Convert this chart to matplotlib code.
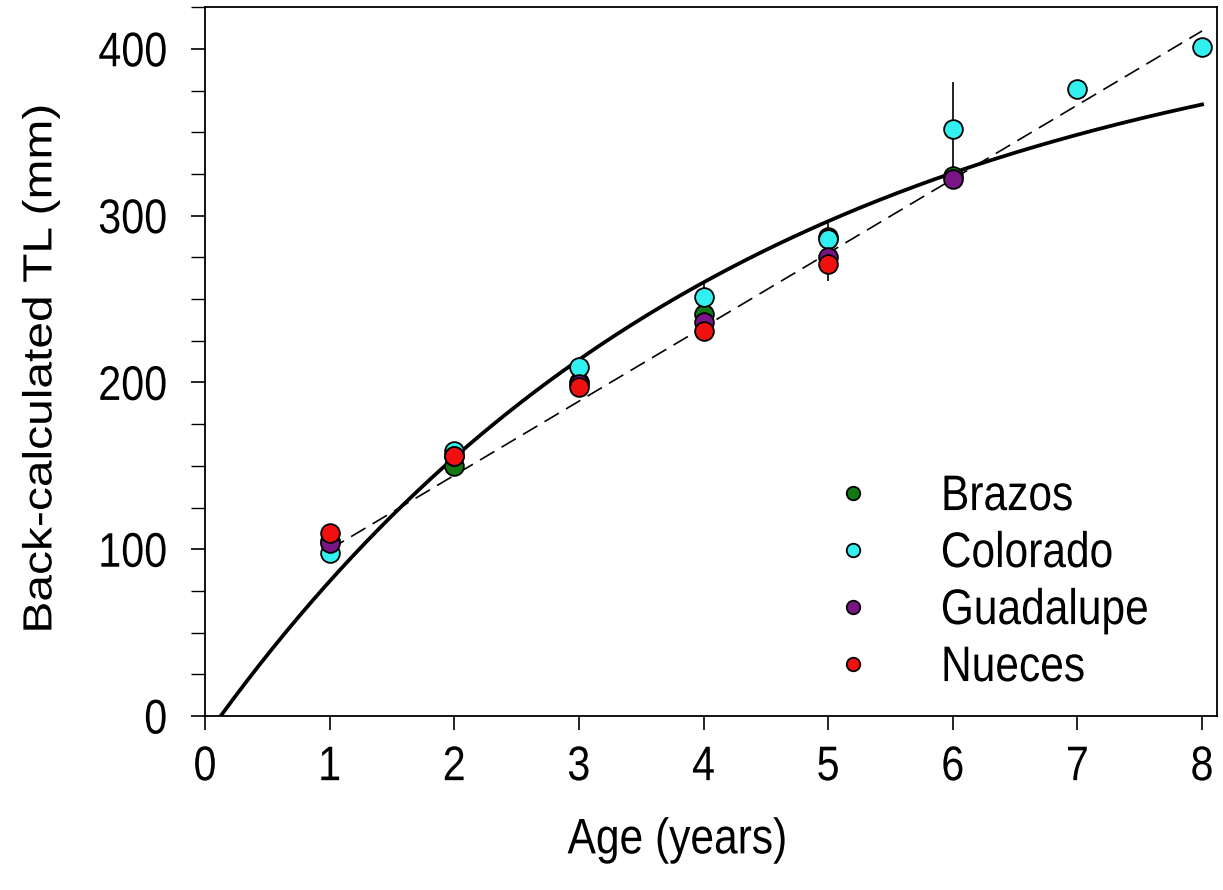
import numpy as np
import matplotlib
matplotlib.use("Agg")
import matplotlib.pyplot as plt
from matplotlib.ticker import MultipleLocator
from matplotlib.patheffects import AbstractPathEffect
from matplotlib.transforms import Affine2D

plt.rcParams['font.family'] = ['Liberation Sans', 'DejaVu Sans']

# ---- data ----
series_names = ["Brazos", "Colorado", "Guadalupe", "Nueces"]
series_colors = ["#137a13", "#33f0f0", "#7a1585", "#f01010"]

brazos_age = [1, 2, 3, 4, 5, 6]
brazos_tl = [105, 150, 200, 241, 287, 324]
brazos_err = [0, 0, 0, 0, 0, 0]

colorado_age = [1, 2, 3, 4, 5, 6, 7, 8]
colorado_tl = [98, 159, 209, 251, 286, 352, 376, 401]
colorado_err = [0, 0, 0, 9, 10, 28, 0, 0]

guadalupe_age = [1, 2, 3, 4, 5, 6]
guadalupe_tl = [104, 156, 199, 236, 275, 322]
guadalupe_err = [0, 0, 0, 0, 0, 0]

nueces_age = [1, 2, 3, 4, 5]
nueces_tl = [110, 156, 197, 231, 271]
nueces_err = [0, 0, 0, 6, 10]

# von Bertalanffy fit parameters
vb_linf = 435.0
vb_k = 0.235
vb_t0 = 0.126

# linear fit (dashed)
lin_intercept = 55.5
lin_slope = 44.4
lin_range = [1, 8]

xticks = [0, 1, 2, 3, 4, 5, 6, 7, 8]
yticks = [0, 100, 200, 300, 400]


class HSqueeze(AbstractPathEffect):
    """Compress rendered text horizontally (display x) about an anchor."""
    def __init__(self, sx=0.85, anchor="center"):
        super().__init__()
        self.sx = sx
        self.anchor = anchor

    def draw_path(self, renderer, gc, tpath, affine, rgbFace=None):
        ext = tpath.get_extents(affine)
        if self.anchor == "left":
            x0 = ext.x0
        elif self.anchor == "right":
            x0 = ext.x1
        else:
            x0 = 0.5 * (ext.x0 + ext.x1)
        t = affine + Affine2D().translate(-x0, 0).scale(self.sx, 1.0).translate(x0, 0)
        renderer.draw_path(gc, tpath, t, rgbFace)


SX = 0.85

# ---- figure ----
fig = plt.figure(figsize=(12.23, 8.90), dpi=100)
ax = fig.add_axes([0.1676, 0.1955, 0.8275, 0.7965])

# fitted curves
t = np.linspace(vb_t0, 8.0, 300)
ax.plot(t, vb_linf * (1 - np.exp(-vb_k * (t - vb_t0))), color="black", lw=2.7, zorder=2)
tl = np.array(lin_range, dtype=float)
ax.plot(tl, lin_intercept + lin_slope * tl, color="black", lw=1.2,
        dashes=(10, 5), zorder=2)

all_age = [brazos_age, colorado_age, guadalupe_age, nueces_age]
all_tl = [brazos_tl, colorado_tl, guadalupe_tl, nueces_tl]
all_err = [brazos_err, colorado_err, guadalupe_err, nueces_err]

for name, col, a, v, e in zip(series_names, series_colors, all_age, all_tl, all_err):
    ax.errorbar(a, v, yerr=e, fmt="none", ecolor="black", elinewidth=1.2,
                capsize=0, zorder=3)
    ax.plot(a, v, linestyle="none", marker="o", markersize=13.5,
            markerfacecolor=col, markeredgecolor="black", markeredgewidth=1.3,
            label=name, zorder=4)

ax.set_xlim(0, 8.12)
ax.set_ylim(0, 425)
ax.set_xticks(xticks)
ax.set_yticks(yticks)
ax.yaxis.set_minor_locator(MultipleLocator(25))
ax.tick_params(axis="both", which="major", direction="out", length=10,
               width=1.2, labelsize=35)
ax.tick_params(axis="x", which="major", pad=11)
ax.tick_params(axis="y", which="major", pad=17)
ax.tick_params(axis="y", which="minor", direction="out", length=10, width=1.0)
for sp in ax.spines.values():
    sp.set_linewidth(1.3)

for tk in ax.xaxis.get_major_ticks():
    tk.label1.set_path_effects([HSqueeze(SX, "center")])
for tk in ax.yaxis.get_major_ticks():
    tk.label1.set_path_effects([HSqueeze(SX, "right")])

xl = ax.set_xlabel("Age (years)", fontsize=36)
ax.xaxis.set_label_coords(0.467, -0.143)
xl.set_path_effects([HSqueeze(SX, "center")])
yl = ax.set_ylabel("Back-calculated TL (mm)", fontsize=34.5)
ax.yaxis.set_label_coords(-0.14, 0.49)
yl.set_path_effects([HSqueeze(SX, "center")])

leg = ax.legend(loc="upper left", bbox_to_anchor=(0.616, 0.3413), frameon=False,
                fontsize=36, markerscale=0.72, handletextpad=1.24,
                labelspacing=0.22, handlelength=1.0, borderaxespad=0,
                borderpad=0)
for txt in leg.get_texts():
    txt.set_path_effects([HSqueeze(SX, "left")])

fig.savefig("out.png", dpi=100)
